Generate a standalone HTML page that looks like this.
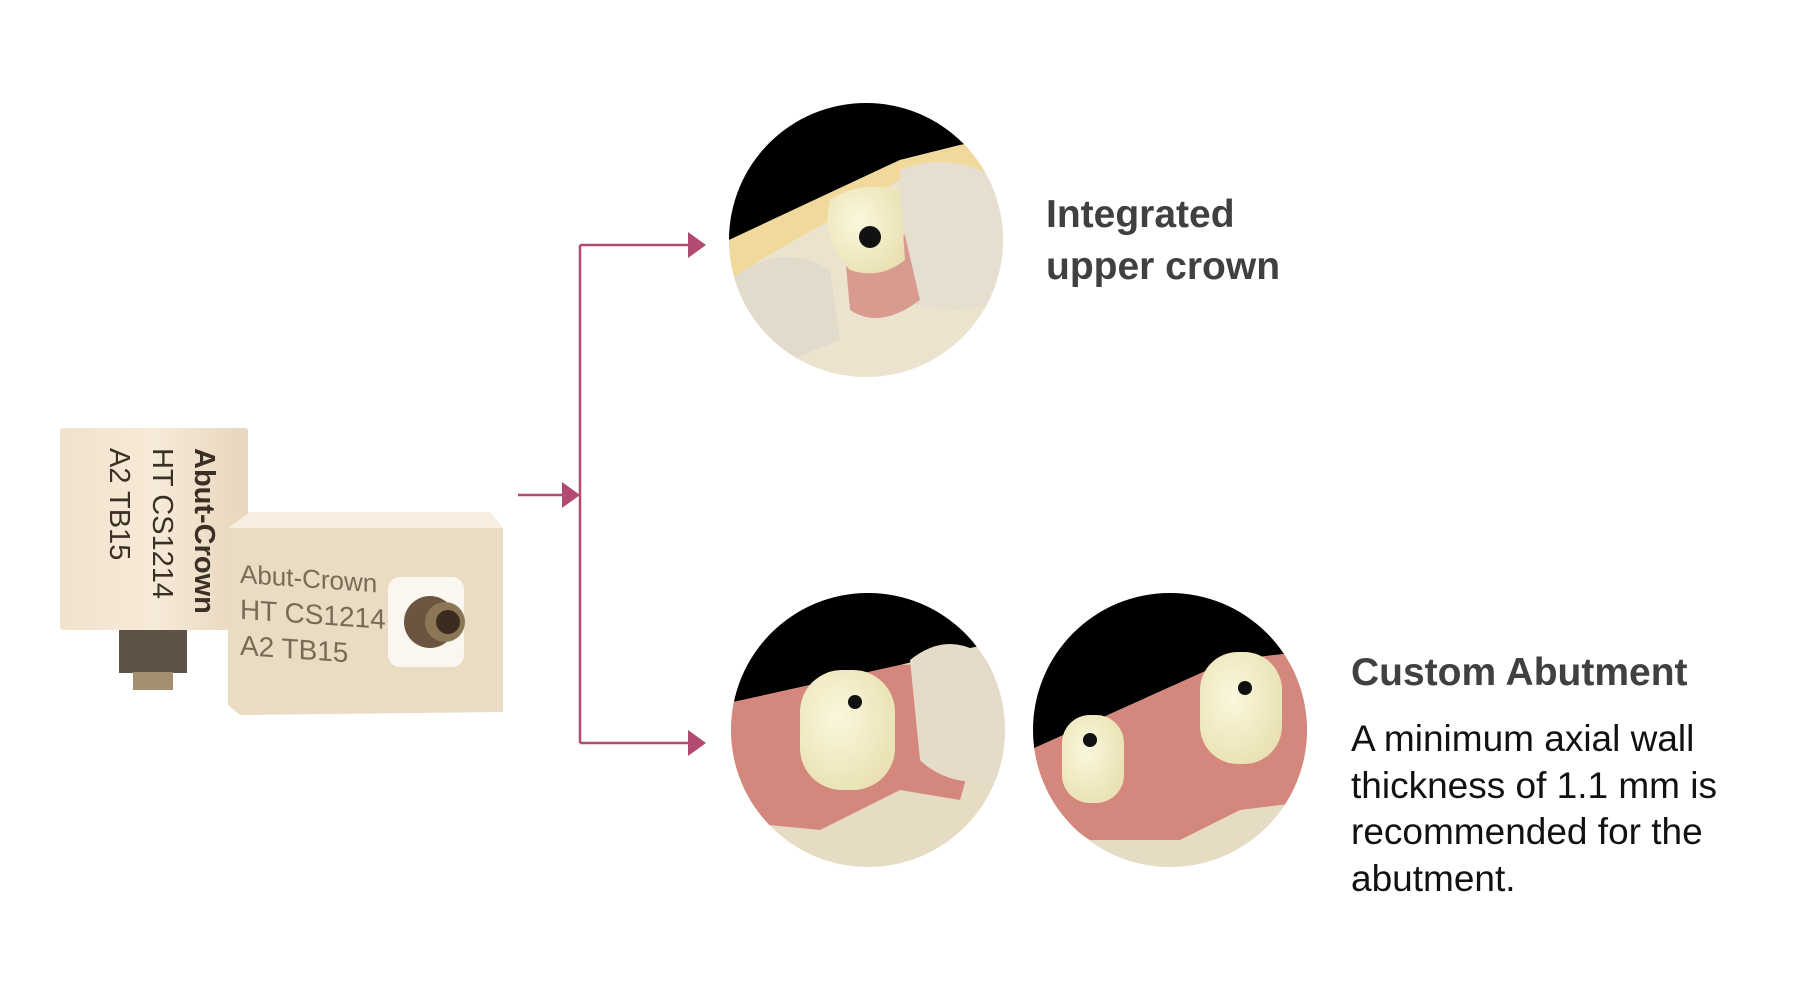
<!DOCTYPE html>
<html><head><meta charset="utf-8">
<style>
html,body{margin:0;padding:0;background:#fff;}
body{width:1800px;height:996px;position:relative;overflow:hidden;font-family:"Liberation Sans",sans-serif;}
.h{position:absolute;font-weight:bold;color:#404040;font-size:39px;line-height:52px;}
.b{position:absolute;left:1351px;top:716px;width:440px;font-size:37px;line-height:46.5px;color:#111;white-space:nowrap;}
svg{position:absolute;left:0;top:0;}
</style></head><body>
<svg width="1800" height="996" viewBox="0 0 1800 996">
<defs>
<clipPath id="c1"><circle cx="866" cy="240" r="137"/></clipPath>
<clipPath id="c2"><circle cx="868" cy="730" r="137"/></clipPath>
<clipPath id="c3"><circle cx="1170" cy="730" r="137"/></clipPath>
<linearGradient id="blk" x1="0" y1="0" x2="1" y2="0"><stop offset="0" stop-color="#f1e2cc"/><stop offset="0.5" stop-color="#f6ead8"/><stop offset="1" stop-color="#e8d6bd"/></linearGradient>
<radialGradient id="cr" cx="0.4" cy="0.4" r="0.7"><stop offset="0" stop-color="#fbf7dc"/><stop offset="1" stop-color="#e8e0b0"/></radialGradient>
</defs>
<g stroke="#b24a72" stroke-width="2.5" fill="none">
<path d="M580 245 V743"/>
<path d="M580 245 H690"/>
<path d="M580 743 H690"/>
<path d="M518 495 H566"/>
</g>
<g fill="#b24a72">
<polygon points="688,232 706,245 688,258"/>
<polygon points="688,730 706,743 688,756"/>
<polygon points="562,482 580,495 562,508"/>
</g>
<g clip-path="url(#c1)">
<rect x="720" y="100" width="300" height="280" fill="#ece3cf"/>
<polygon points="720,100 1010,100 1010,135 960,145 900,160 729,240 720,245" fill="#000"/>
<polygon points="720,245 729,240 900,160 960,145 1010,140 1010,170 900,180 760,260 720,290" fill="#f0d99a"/>
<path d="M900 170 Q950 150 1000 180 L1010 300 Q960 320 900 300 Z" fill="#e6dfd0"/>
<path d="M730 280 Q780 240 830 270 L840 340 L740 380 Z" fill="#e2dacb"/>
<path d="M845 255 L905 235 L920 300 Q880 330 850 310 Z" fill="#d99a90"/>
<path d="M830 200 Q860 180 900 190 L905 260 Q880 280 850 270 Q820 240 830 200 Z" fill="url(#cr)"/>
<circle cx="870" cy="237" r="11" fill="#111"/>
</g>
<g clip-path="url(#c2)">
<rect x="720" y="590" width="300" height="280" fill="#e6dcc4"/>
<polygon points="720,590 1010,590 1010,640 960,650 900,665 720,705" fill="#000"/>
<path d="M720 705 L900 665 L1000 660 L960 800 L900 790 L820 830 L720 820 Z" fill="#d4877c"/>
<path d="M910 660 Q960 620 1010 680 L1010 780 Q950 790 920 760 Z" fill="#e4dcc8"/>
<rect x="800" y="670" width="95" height="120" rx="42" fill="url(#cr)"/>
<circle cx="855" cy="702" r="7" fill="#111"/>
</g>
<g clip-path="url(#c3)">
<rect x="1030" y="590" width="300" height="280" fill="#e6dcc4"/>
<polygon points="1030,590 1320,590 1320,650 1230,660 1030,750" fill="#000"/>
<path d="M1030 750 L1230 660 L1320 650 L1320 800 L1240 810 L1180 840 L1090 840 L1030 800 Z" fill="#d4877c"/>
<rect x="1200" y="652" width="82" height="112" rx="38" fill="url(#cr)"/>
<circle cx="1245" cy="688" r="7" fill="#111"/>
<rect x="1062" y="715" width="62" height="88" rx="28" fill="url(#cr)"/>
<circle cx="1090" cy="740" r="7" fill="#111"/>
</g>
<rect x="119" y="628" width="68" height="45" fill="#5e5347"/>
<rect x="133" y="672" width="40" height="18" fill="#a39070"/>
<rect x="60" y="428" width="188" height="202" rx="3" fill="url(#blk)"/>
<polygon points="228,528 250,512 490,512 503,528 503,712 240,715 228,705" fill="#eadbc3"/>
<polygon points="228,528 250,512 490,512 503,528" fill="#f7eedf"/>
<rect x="388" y="577" width="76" height="90" rx="12" fill="#faf6f0"/>
<circle cx="430" cy="622" r="26" fill="#6b5540"/>
<circle cx="445" cy="622" r="20" fill="#8b7656"/>
<circle cx="448" cy="622" r="12" fill="#3a2c20"/>
<g font-family="Liberation Sans, sans-serif" fill="#3b3025" font-size="29">
<text transform="translate(195,448) rotate(90)" font-weight="bold">Abut-Crown</text>
<text transform="translate(153,448) rotate(90)">HT CS1214</text>
<text transform="translate(110,448) rotate(90)">A2 TB15</text>
</g>
<g font-family="Liberation Sans Narrow, Liberation Sans, sans-serif" fill="#7a6a58" font-size="28" transform="skewY(4)">
<text x="240" y="566" font-size="26">Abut-Crown</text>
<text x="240" y="602">HT CS1214</text>
<text x="240" y="638">A2 TB15</text>
</g>
</svg>
<div class="h" style="left:1046px;top:189px;">Integrated<br>upper crown</div>
<div class="h" style="left:1351px;top:647px;">Custom Abutment</div>
<div class="b">A minimum axial wall<br>thickness of 1.1 mm is<br>recommended for the<br>abutment.</div>
</body></html>
